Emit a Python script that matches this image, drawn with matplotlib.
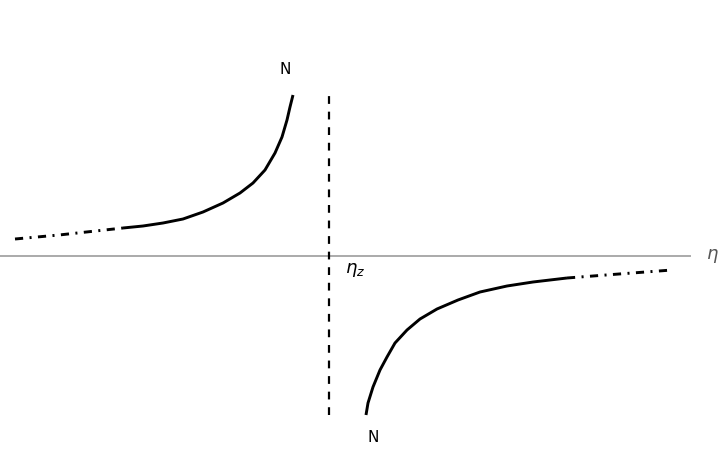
import matplotlib
matplotlib.use('Agg')
import matplotlib.pyplot as plt

# points (eta relative to eta_z, arbitrary y units)
left_dash_x = [-3.14, -2.70, -2.06]
left_dash_y = [0.17, 0.21, 0.28]
left_x = [-2.06, -1.86, -1.66, -1.46, -1.26, -1.06, -0.89, -0.76, -0.64,
          -0.54, -0.47, -0.42, -0.39, -0.36]
left_y = [0.28, 0.30, 0.33, 0.37, 0.44, 0.53, 0.63, 0.73, 0.86,
          1.03, 1.19, 1.36, 1.49, 1.61]

right_x = [0.37, 0.39, 0.44, 0.51, 0.58, 0.66, 0.78, 0.91, 1.08,
           1.29, 1.51, 1.78, 2.04, 2.38]
right_y = [-1.59, -1.47, -1.31, -1.14, -1.01, -0.87, -0.74, -0.63, -0.53,
           -0.44, -0.36, -0.30, -0.26, -0.22]
right_dash_x = [2.38, 2.90, 3.43]
right_dash_y = [-0.22, -0.18, -0.14]

asym_top = 1.61
asym_bottom = -1.59
axis_end = 3.61

fig = plt.figure(figsize=(7.2, 4.54), dpi=100)
ax = fig.add_axes([0, 0, 1, 1])
ax.set_xlim(-3.29, 3.91)
ax.set_ylim(-1.98, 2.56)
ax.axis('off')

# eta axis
ax.plot([-3.29, axis_end], [0, 0], color='#aaaaaa', lw=1.4)
ax.text(3.83, 0.0, r'$\eta$', fontsize=13, color='#555555', va='center', ha='center')

# asymptote at eta_z
ax.plot([0, 0], [asym_bottom, asym_top], color='black', lw=1.6, dashes=(3.5, 3.5))
ax.text(0.16, -0.14, r'$\eta_z$', fontsize=13, va='center', ha='left')

# branches
ax.plot(left_x, left_y, color='black', lw=2.1, solid_capstyle='butt', solid_joinstyle='round')
ax.plot(left_dash_x, left_dash_y, color='black', lw=2.1, dashes=(2.8, 2.2, 0.7, 2.2))
ax.plot(right_x, right_y, color='black', lw=2.1, solid_capstyle='butt', solid_joinstyle='round')
ax.plot(right_dash_x, right_dash_y, color='black', lw=2.1, dashes=(2.8, 2.2, 0.7, 2.2))

ax.text(-0.44, 1.86, 'N', fontsize=11, ha='center', va='center')
ax.text(0.44, -1.81, 'N', fontsize=11, ha='center', va='center')

plt.savefig('out.png')
